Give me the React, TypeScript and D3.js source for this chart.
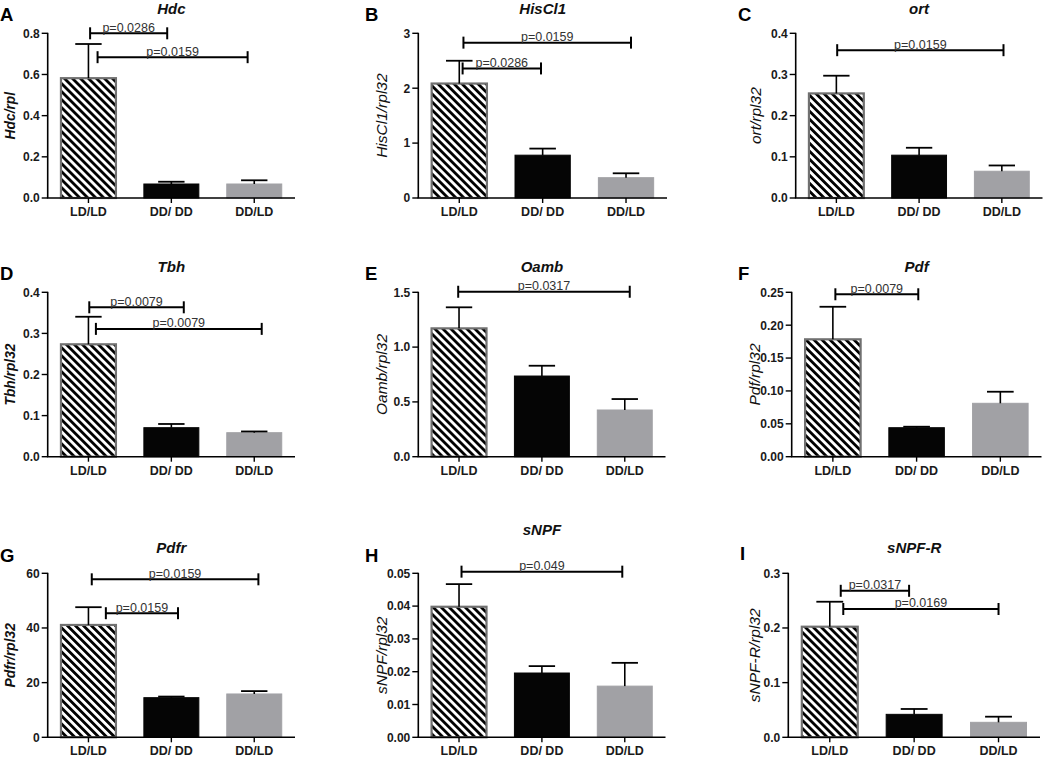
import React from "react";
import * as d3 from "d3";

// ---------- data ----------
const CATEGORIES = ["LD/LD", "DD/ DD", "DD/LD"];
const PANEL_LETTERS = ["A", "B", "C", "D", "E", "F", "G", "H", "I"];
const GENES = ["Hdc", "HisCl1", "ort", "Tbh", "Oamb", "Pdf", "Pdfr", "sNPF", "sNPF-R"];
const Y_LABELS = [
  "Hdc/rpl",
  "HisCl1/rpl32",
  "ort/rpl32",
  "Tbh/rpl32",
  "Oamb/rpl32",
  "Pdf/rpl32",
  "Pdfr/rpl32",
  "sNPF/rpl32",
  "sNPF-R/rpl32",
];

const MEANS: number[][] = [
  [0.582, 0.068, 0.068],
  [2.085, 0.78, 0.37],
  [0.254, 0.104, 0.065],
  [0.2735, 0.0706, 0.0584],
  [1.171, 0.736, 0.426],
  [0.1785, 0.0441, 0.0812],
  [41.1, 14.5, 15.85],
  [0.0398, 0.0196, 0.0156],
  [0.2023, 0.042, 0.0274],
];

const SEMS: number[][] = [
  [0.166, 0.011, 0.018],
  [0.415, 0.12, 0.08],
  [0.043, 0.018, 0.014],
  [0.067, 0.009, 0.003],
  [0.192, 0.094, 0.1],
  [0.0495, 0.0015, 0.0176],
  [6.5, 0.4, 1.05],
  [0.0069, 0.0021, 0.0071],
  [0.0457, 0.0098, 0.0103],
];

const Y_MAX = [0.8, 3, 0.4, 0.4, 1.5, 0.25, 60, 0.05, 0.3];
const Y_STEP = [0.2, 1, 0.1, 0.1, 0.5, 0.05, 20, 0.01, 0.1];
const TICK_FORMATS = [".1f", ".0f", ".1f", ".1f", ".1f", ".2f", ".0f", ".2f", ".1f"];

// significance brackets: [from (category index), to (category index), y value, label]
type Bracket = [number, number, number, string];
const BRACKETS: Bracket[][] = [
  [[0.02, 0.95, 0.8, "p=0.0286"], [0.11, 1.92, 0.684, "p=0.0159"]],
  [[0.05, 2.06, 2.83, "p=0.0159"], [0.04, 0.98, 2.36, "p=0.0286"]],
  [[0.01, 2.02, 0.359, "p=0.0159"]],
  [[0.01, 1.15, 0.3635, "p=0.0079"], [0.09, 2.09, 0.311, "p=0.0079"]],
  [[-0.01, 2.06, 1.505, "p=0.0317"]],
  [[0.03, 1.02, 0.247, "p=0.0079"]],
  [[0.04, 2.05, 57.8, "p=0.0159"], [0.21, 1.08, 45.4, "p=0.0159"]],
  [[0.03, 1.97, 0.0505, "p=0.049"]],
  [[0.13, 0.94, 0.268, "p=0.0317"], [0.16, 2.0, 0.2347, "p=0.0169"]],
];

// ---------- layout / style ----------
const W = 1045;
const H = 757;
const FONT = "'Liberation Sans', Arial, Helvetica, sans-serif";

interface Layout {
  x0: number; x1: number; yTop: number; yBot: number;
  labelX: number; titleY: number; letterX: number; letterY: number;
}
const LAYOUT: Layout[] = [
  { x0: 47.7, x1: 295, yTop: 33.3, yBot: 198, labelX: 15, titleY: 13.5, letterX: 0, letterY: 21 },
  { x0: 418.3, x1: 667, yTop: 33.3, yBot: 198, labelX: 387, titleY: 13.5, letterX: 365, letterY: 21 },
  { x0: 795.7, x1: 1042.5, yTop: 33.3, yBot: 198, labelX: 761, titleY: 13.5, letterX: 738, letterY: 21 },
  { x0: 47.7, x1: 295, yTop: 292.3, yBot: 456.7, labelX: 15, titleY: 271.5, letterX: 0, letterY: 280 },
  { x0: 418.3, x1: 665.5, yTop: 292.3, yBot: 456.7, labelX: 387, titleY: 271.5, letterX: 365, letterY: 280 },
  { x0: 791.7, x1: 1041.5, yTop: 292.3, yBot: 456.7, labelX: 760, titleY: 271.5, letterX: 738, letterY: 280 },
  { x0: 47.7, x1: 295, yTop: 573.3, yBot: 737.3, labelX: 15, titleY: 553, letterX: 0, letterY: 562 },
  { x0: 418.3, x1: 665.5, yTop: 573.3, yBot: 737.3, labelX: 387, titleY: 535, letterX: 365, letterY: 562 },
  { x0: 788.3, x1: 1040, yTop: 573.3, yBot: 737.3, labelX: 760, titleY: 553, letterX: 740, letterY: 560 },
];

const BAR_FILLS = ["url(#hatch)", "#050505", "#a1a1a5"];
const BAR_STROKES = ["#707070", "#050505", "#a1a1a5"];

function Panel({ i }: { i: number }) {
  const L = LAYOUT[i];
  const x = d3
    .scaleBand<string>()
    .domain(CATEGORIES)
    .range([L.x0, L.x1])
    .paddingInner(0.337)
    .paddingOuter(0.16);
  const y = d3.scaleLinear().domain([0, Y_MAX[i]]).range([L.yBot, L.yTop]);
  const ticks = d3.range(0, Y_MAX[i] + Y_STEP[i] / 2, Y_STEP[i]);
  const fmt = d3.format(TICK_FORMATS[i]);
  const bw = x.bandwidth();
  const step = x.step();
  const center = (c: string) => (x(c) as number) + bw / 2;
  const c0 = center(CATEGORIES[0]);
  const capHalf = bw * 0.24;
  const col = i % 3;
  const midY = (L.yTop + L.yBot) / 2;

  return (
    <g>
      {/* panel letter */}
      <text x={L.letterX} y={L.letterY} fontFamily={FONT} fontWeight="bold" fontSize={18.5} fill="#000">
        {PANEL_LETTERS[i]}
      </text>
      {/* title */}
      <text
        x={center(CATEGORIES[1])}
        y={L.titleY}
        textAnchor="middle"
        fontFamily={FONT}
        fontWeight="bold"
        fontStyle="italic"
        fontSize={15}
        fill="#111"
      >
        {GENES[i]}
      </text>
      {/* y label */}
      <text
        transform={`translate(${L.labelX},${midY}) rotate(-90)`}
        textAnchor="middle"
        fontFamily={FONT}
        fontStyle="italic"
        fontWeight={col === 0 ? "bold" : "normal"}
        fontSize={col === 0 ? 13.8 : 15.5}
        fill="#111"
      >
        {Y_LABELS[i]}
      </text>

      {/* bars */}
      {CATEGORIES.map((c, k) => {
        const top = y(MEANS[i][k]);
        return (
          <rect
            key={"b" + k}
            x={x(c) as number}
            y={top}
            width={bw}
            height={L.yBot - top}
            fill={BAR_FILLS[k]}
            stroke={BAR_STROKES[k]}
            strokeWidth={k === 0 ? 2.2 : 1}
          />
        );
      })}
      {/* error bars */}
      {CATEGORIES.map((c, k) => {
        const cx = center(c);
        const top = y(MEANS[i][k]);
        const e = y(MEANS[i][k] + SEMS[i][k]);
        return (
          <g key={"e" + k} stroke="#000" fill="none">
            <line x1={cx} x2={cx} y1={top} y2={e} strokeWidth={1.6} />
            <line x1={cx - capHalf} x2={cx + capHalf} y1={e} y2={e} strokeWidth={1.8} />
          </g>
        );
      })}

      {/* y axis */}
      <line x1={L.x0} x2={L.x0} y1={L.yBot} y2={L.yTop - 0.5} stroke="#000" strokeWidth={1.6} />
      {ticks.map((t) => (
        <g key={"t" + t}>
          <line x1={L.x0 - 6} x2={L.x0} y1={y(t)} y2={y(t)} stroke="#000" strokeWidth={1.4} />
          <text
            x={L.x0 - 8}
            y={y(t)}
            dy="0.36em"
            textAnchor="end"
            fontFamily={FONT}
            fontWeight="bold"
            fontSize={12}
            fill="#1a1a1a"
          >
            {fmt(t)}
          </text>
        </g>
      ))}
      {/* x axis */}
      <line x1={L.x0 - 0.8} x2={L.x1} y1={L.yBot} y2={L.yBot} stroke="#000" strokeWidth={1.6} />
      {CATEGORIES.map((c) => (
        <g key={"x" + c}>
          <line x1={center(c)} x2={center(c)} y1={L.yBot} y2={L.yBot + 5} stroke="#000" strokeWidth={1.4} />
          <text
            x={center(c)}
            y={L.yBot + 18}
            textAnchor="middle"
            fontFamily={FONT}
            fontWeight="bold"
            fontSize={12.5}
            fill="#1a1a1a"
          >
            {c}
          </text>
        </g>
      ))}

      {/* significance brackets */}
      {BRACKETS[i].map(([a, b, v, label], k) => {
        const xa = c0 + a * step;
        const xb = c0 + b * step;
        const yy = y(v);
        return (
          <g key={"s" + k}>
            <line x1={xa} x2={xb} y1={yy} y2={yy} stroke="#000" strokeWidth={2} />
            <line x1={xa} x2={xa} y1={yy - 6} y2={yy + 6} stroke="#000" strokeWidth={2} />
            <line x1={xb} x2={xb} y1={yy - 6} y2={yy + 6} stroke="#000" strokeWidth={2} />
            <text
              x={(xa + xb) / 2}
              y={yy - 1.5}
              textAnchor="middle"
              fontFamily={FONT}
              fontSize={12.5}
              fill="#333"
            >
              {label}
            </text>
          </g>
        );
      })}
    </g>
  );
}

export default function App() {
  return (
    <svg
      width={W}
      height={H}
      viewBox={`0 0 ${W} ${H}`}
      style={{ position: "absolute", left: 0, top: 0, background: "#fff" }}
    >
      <defs>
        <pattern
          id="hatch"
          patternUnits="userSpaceOnUse"
          width={5.66}
          height={10}
          patternTransform="rotate(-45)"
        >
          <rect x={0} y={0} width={5.66} height={10} fill="#fff" />
          <rect x={0} y={0} width={2.8} height={10} fill="#000" />
        </pattern>
      </defs>
      <rect x={0} y={0} width={W} height={H} fill="#fff" />
      {PANEL_LETTERS.map((_, i) => (
        <Panel key={i} i={i} />
      ))}
    </svg>
  );
}
